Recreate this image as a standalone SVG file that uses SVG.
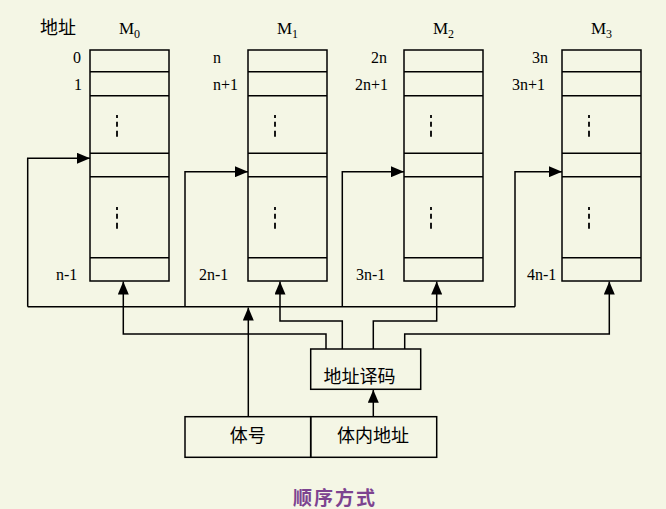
<svg xmlns="http://www.w3.org/2000/svg" width="666" height="509" viewBox="0 0 666 509">
<defs>
<style>
.bg{fill:#f4f6e5}
.box{fill:none;stroke:#000;stroke-width:1.5}
.row{stroke:#000;stroke-width:1.5}
.dots{stroke:#000;stroke-width:1.8;stroke-dasharray:3,3.7,5,4,6,10}
.wire{fill:none;stroke:#000;stroke-width:1.5}
.num{font-family:"Liberation Serif","Times New Roman",serif;font-size:16px;fill:#000}
.ml{font-family:"Liberation Serif","Times New Roman",serif;font-size:17px;fill:#000;text-anchor:middle}
.sub{font-size:12px}
.cn{font-family:"Liberation Sans","Noto Sans CJK SC",sans-serif;font-size:18px;fill:#000;text-anchor:middle}
.title{font-family:"Liberation Sans","Noto Sans CJK SC",sans-serif;font-size:19px;font-weight:bold;fill:#7d4390;text-anchor:middle;letter-spacing:2px}
</style>
<marker id="arr" viewBox="0 0 13 11" refX="13" refY="5.5" markerWidth="13" markerHeight="11" markerUnits="userSpaceOnUse" orient="auto">
<path d="M0,0 L13,5.5 L0,11 z" fill="#000"/>
</marker>
<g id="bank">
<rect class="box" x="0" y="50" width="79" height="231"/>
<line class="row" x1="0" y1="71.7" x2="79" y2="71.7"/>
<line class="row" x1="0" y1="95.7" x2="79" y2="95.7"/>
<line class="row" x1="0" y1="153.3" x2="79" y2="153.3"/>
<line class="row" x1="0" y1="176.7" x2="79" y2="176.7"/>
<line class="row" x1="0" y1="257.7" x2="79" y2="257.7"/>
<line class="dots" x1="27" y1="115" x2="27" y2="137"/>
<line class="dots" x1="27" y1="207" x2="27" y2="230"/>
</g>
</defs>
<rect class="bg" x="0" y="0" width="666" height="509"/>

<g id="addr-label"><text class="cn" x="58" y="34">地址</text></g>

<g id="M0">
<use href="#bank" x="90"/>
<text class="ml" x="129.5" y="34">M<tspan class="sub" dy="4">0</tspan></text>
<text class="num" x="73" y="63">0</text>
<text class="num" x="74" y="90">1</text>
<text class="num" x="56" y="280">n-1</text>
</g>
<g id="M1">
<use href="#bank" x="248"/>
<text class="ml" x="287.5" y="34">M<tspan class="sub" dy="4">1</tspan></text>
<text class="num" x="213" y="63">n</text>
<text class="num" x="213" y="90">n+1</text>
<text class="num" x="199" y="280">2n-1</text>
</g>
<g id="M2">
<use href="#bank" x="404"/>
<text class="ml" x="443.5" y="34">M<tspan class="sub" dy="4">2</tspan></text>
<text class="num" x="371" y="63">2n</text>
<text class="num" x="355" y="90">2n+1</text>
<text class="num" x="356" y="280">3n-1</text>
</g>
<g id="M3">
<use href="#bank" x="562"/>
<text class="ml" x="601.5" y="34">M<tspan class="sub" dy="4">3</tspan></text>
<text class="num" x="532" y="63">3n</text>
<text class="num" x="512" y="90">3n+1</text>
<text class="num" x="527" y="280">4n-1</text>
</g>

<g id="decoder">
<rect class="box" x="310.7" y="349" width="110" height="40.3"/>
<text class="cn" x="359.5" y="383">地址译码</text>
</g>
<g id="bank-no">
<rect class="box" x="185" y="416.7" width="125.7" height="40.6"/>
<text class="cn" x="247.8" y="442">体号</text>
</g>
<g id="in-bank-addr">
<rect class="box" x="310.7" y="416.7" width="126" height="40.6"/>
<text class="cn" x="373" y="442">体内地址</text>
</g>

<g id="connectors">
<path class="wire" d="M27.7,306.7 H515"/>
<path class="wire" d="M27.7,306.7 V158.3 H90" marker-end="url(#arr)"/>
<path class="wire" d="M185,306.7 V171.7 H248" marker-end="url(#arr)"/>
<path class="wire" d="M342.3,306.7 V171.7 H404" marker-end="url(#arr)"/>
<path class="wire" d="M515,306.7 V171.7 H562" marker-end="url(#arr)"/>
<path class="wire" d="M248.3,416.7 V307.5" marker-end="url(#arr)"/>
<path class="wire" d="M326,349 V334 H123.3 V281.5" marker-end="url(#arr)"/>
<path class="wire" d="M342.3,349 V321 H280 V281.5" marker-end="url(#arr)"/>
<path class="wire" d="M373.3,349 V321 H436.7 V281.5" marker-end="url(#arr)"/>
<path class="wire" d="M404.7,349 V334 H609.3 V281.5" marker-end="url(#arr)"/>
<path class="wire" d="M373.3,416.7 V389.8" marker-end="url(#arr)"/>
</g>

<g id="caption"><text class="title" x="335" y="505">顺序方式</text></g>
</svg>
